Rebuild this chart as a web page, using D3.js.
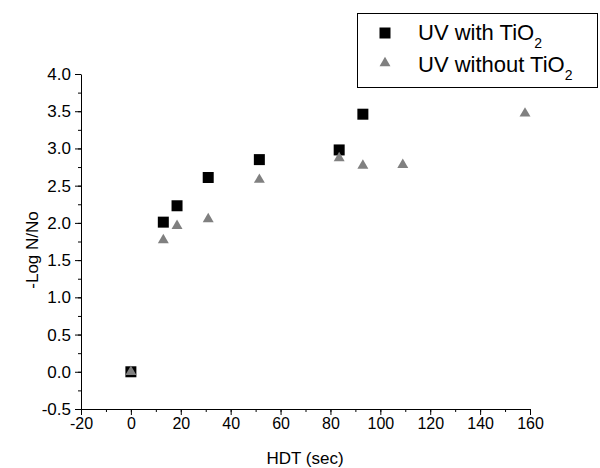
<!DOCTYPE html>
<meta charset="utf-8">
<style>
  body { margin: 0; padding: 0; background: white; }
  svg { background: white; font-family: "Liberation Sans", Arial, sans-serif; }
</style>
<script src="https://d3js.org/d3.v7.min.js"></script>
<svg id="vis"></svg>
<script>
// data
var hdtWith = [0, 13, 18.5, 31, 51.5, 83.5, 93];
var logWith = [0, 2.01, 2.23, 2.61, 2.85, 2.98, 3.46];
var hdtWithout = [0, 13, 18.5, 31, 51.5, 83.5, 93, 109, 158];
var logWithout = [0, 1.77, 1.96, 2.05, 2.58, 2.87, 2.77, 2.78, 3.47];
var xTicks = [-20, 0, 20, 40, 60, 80, 100, 120, 140, 160];
var yTicks = [-0.5, 0, 0.5, 1, 1.5, 2, 2.5, 3, 3.5, 4];

var width = 600, height = 468;
var svg = d3.select("#vis").attr("width", width).attr("height", height);

var x = d3.scaleLinear().domain([-20, 160]).range([81, 530]);
var y = d3.scaleLinear().domain([-0.5, 4]).range([409, 74]);

// minor ticks
var xMinor = d3.range(-20, 161, 10);
var yMinor = d3.range(-0.5, 4.01, 0.25);

svg.append("g")
  .attr("transform", "translate(0,409)")
  .call(d3.axisBottom(x).tickValues(xMinor).tickSize(3).tickFormat(""))
  .call(g => g.select(".domain").remove());
svg.append("g")
  .attr("transform", "translate(81,0)")
  .call(d3.axisLeft(y).tickValues(yMinor).tickSize(3).tickFormat(""))
  .call(g => g.select(".domain").remove());

// plain hyphen for negatives, like the original
var fx = d => String(d);
var fy = d => d.toFixed(1);

var xAxis = svg.append("g")
  .attr("transform", "translate(0,409)")
  .call(d3.axisBottom(x).tickValues(xTicks).tickSize(6).tickSizeOuter(0).tickPadding(3).tickFormat(fx));
var yAxis = svg.append("g")
  .attr("transform", "translate(81,0)")
  .call(d3.axisLeft(y).tickValues(yTicks).tickSize(6).tickSizeOuter(0).tickPadding(4).tickFormat(fy));

svg.selectAll(".tick line, .domain").attr("stroke", "#000").attr("stroke-width", 1);
svg.selectAll(".tick text").attr("fill", "#000")
  .attr("font-family", "Liberation Sans, Arial, sans-serif");
xAxis.selectAll(".tick text").attr("font-size", 16);
yAxis.selectAll(".tick text").attr("font-size", 17);

// axis titles
svg.append("text")
  .attr("x", 305).attr("y", 464)
  .attr("text-anchor", "middle").attr("font-size", 17)
  .text("HDT (sec)");
svg.append("text")
  .attr("transform", "translate(38,250) rotate(-90)")
  .attr("text-anchor", "middle").attr("font-size", 17)
  .text("-Log N/No");

var square = d3.symbol().type(d3.symbolSquare).size(121);
var triangle = d3.symbol().type(d3.symbolTriangle).size(52);

svg.append("g").selectAll("path")
  .data(hdtWith)
  .join("path")
  .attr("d", square)
  .attr("transform", (d, i) => "translate(" + x(d) + "," + y(logWith[i]) + ")")
  .attr("fill", "#000");

svg.append("g").selectAll("path")
  .data(hdtWithout)
  .join("path")
  .attr("d", triangle)
  .attr("transform", (d, i) => "translate(" + x(d) + "," + y(logWithout[i]) + ")")
  .attr("fill", "#808080");

// legend
var legend = svg.append("g");
legend.append("rect")
  .attr("x", 357.5).attr("y", 13.5).attr("width", 240).attr("height", 74)
  .attr("fill", "white").attr("stroke", "#000");
legend.append("path").attr("d", square).attr("transform", "translate(385,33)").attr("fill", "#000");
legend.append("path").attr("d", triangle).attr("transform", "translate(385,63)").attr("fill", "#808080");

var t1 = legend.append("text").attr("x", 418).attr("y", 40).attr("font-size", 22);
t1.append("tspan").text("UV with TiO");
t1.append("tspan").attr("font-size", 14).attr("dy", 8).text("2");
var t2 = legend.append("text").attr("x", 418).attr("y", 72).attr("font-size", 22);
t2.append("tspan").text("UV without TiO");
t2.append("tspan").attr("font-size", 14).attr("dy", 8).text("2");
</script>
